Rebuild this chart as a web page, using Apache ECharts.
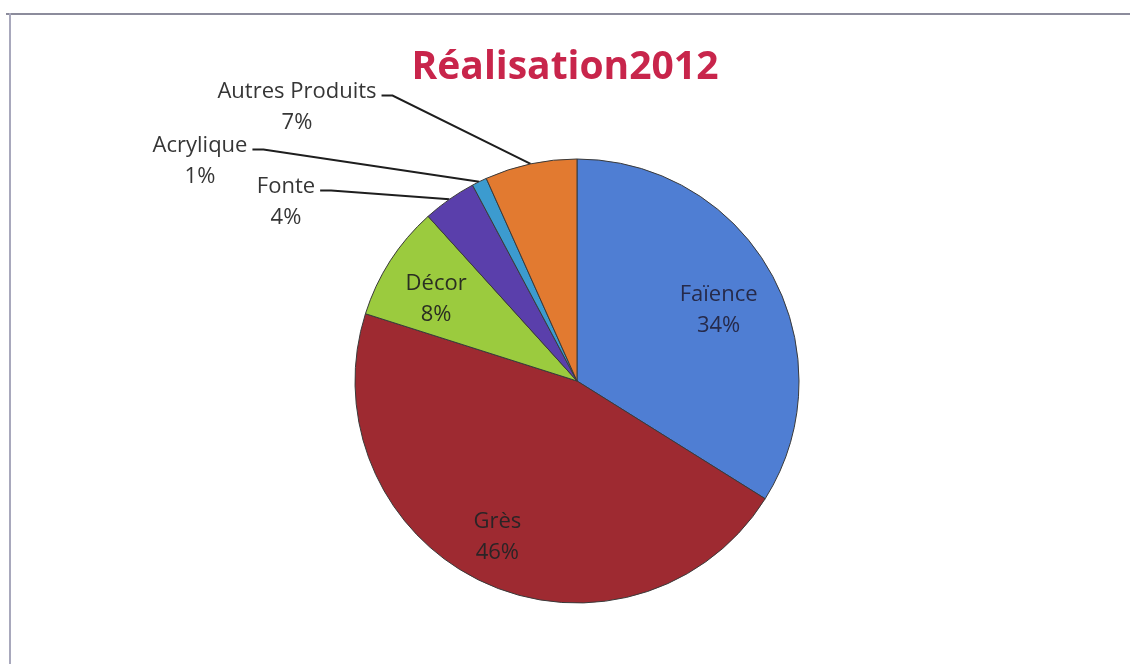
<!DOCTYPE html>
<html>
<head>
<meta charset="utf-8">
<script src="https://cdn.jsdelivr.net/npm/echarts@6/dist/echarts.min.js"></script>
<style>
html,body{margin:0;padding:0;background:#fff;}
#chart{width:1130px;height:664px;}
</style>
</head>
<body>
<div id="chart"></div>
<script>
// ---- data ----
const categories = ['Faïence', 'Grès', 'Décor', 'Fonte', 'Acrylique', 'Autres Produits'];
const values = [33.9, 46.0, 8.4, 3.9, 1.1, 6.7];
const titleText = 'Réalisation2012';

// ---- styles ----
const colors = ['#4F7ED3', '#9E2A31', '#9BCB3E', '#5A3FAB', '#3C9BCF', '#E27A30'];
const insideNames = ['Faïence', 'Grès', 'Décor'];
const insideRadiusFactor = { 'Faïence': 1.42, 'Grès': 1.6, 'Décor': 1.48 };
const insideShift = { 'Faïence': [0, 8], 'Grès': [-3, -9], 'Décor': [1, 10] };
const insideColor = { 'Faïence': '#262a4a', 'Grès': '#2a2426', 'Décor': '#2a2e22' };
const outsideLabelPos = {
  'Autres Produits': { x: 297, y: 76 },
  'Acrylique': { x: 200, y: 130 },
  'Fonte': { x: 286, y: 171 }
};
const PIE_CENTER = [577, 381];
const PIE_RADIUS = 222;

const chart = echarts.init(document.getElementById('chart'), null, { renderer: 'canvas' });

const seriesData = categories.map((name, i) => {
  const inside = insideNames.indexOf(name) >= 0;
  return {
    name: name,
    value: values[i],
    itemStyle: { color: colors[i] },
    label: inside
      ? { position: 'inside', color: insideColor[name] }
      : { position: 'outside', color: '#363636' },
    labelLine: { show: !inside }
  };
});

chart.setOption({
  backgroundColor: '#ffffff',
  animation: false,
  title: {
    text: titleText,
    left: 'center',
    top: 43,
    padding: [5, 5, 5, 20],
    textStyle: {
      fontFamily: 'Open Sans',
      fontWeight: 'bold',
      fontSize: 39,
      color: '#C8254B'
    }
  },
  graphic: [
    { type: 'line', shape: { x1: 6, y1: 14, x2: 1130, y2: 14 }, style: { stroke: '#8c8c9c', lineWidth: 2 } },
    { type: 'line', shape: { x1: 10, y1: 13, x2: 10, y2: 664 }, style: { stroke: '#a8a8bc', lineWidth: 2 } }
  ],
  series: [{
    type: 'pie',
    center: PIE_CENTER,
    radius: PIE_RADIUS,
    startAngle: 90,
    clockwise: true,
    avoidLabelOverlap: false,
    itemStyle: { borderColor: '#3a3a3a', borderWidth: 1 },
    label: {
      show: true,
      fontFamily: 'Open Sans',
      fontSize: 22,
      lineHeight: 31,
      align: 'center',
      formatter: p => p.name + '\n' + Math.round(p.percent) + '%'
    },
    labelLine: {
      show: true,
      length: 20,
      length2: 10,
      lineStyle: { color: '#1e1e1e', width: 2 }
    },
    labelLayout: function (params) {
      const name = categories[params.dataIndex];
      const r = params.labelRect;
      if (insideNames.indexOf(name) >= 0) {
        const lx = r.x + r.width / 2;
        const ly = r.y + r.height / 2;
        const k = insideRadiusFactor[name];
        const s = insideShift[name];
        return {
          x: PIE_CENTER[0] + (lx - PIE_CENTER[0]) * k + s[0],
          y: PIE_CENTER[1] + (ly - PIE_CENTER[1]) * k + s[1],
          align: 'center',
          verticalAlign: 'middle'
        };
      }
      const pos = outsideLabelPos[name];
      const edge = params.labelLinePoints ? params.labelLinePoints[0] : [PIE_CENTER[0], PIE_CENTER[1] - PIE_RADIUS];
      const rightX = pos.x + r.width / 2;
      const lineY = pos.y + 31 / 2 + 4;
      return {
        x: pos.x,
        y: pos.y,
        align: 'center',
        verticalAlign: 'top',
        labelLinePoints: [edge, [rightX + 16, lineY], [rightX + 5, lineY]]
      };
    },
    data: seriesData
  }]
});
</script>
</body>
</html>
